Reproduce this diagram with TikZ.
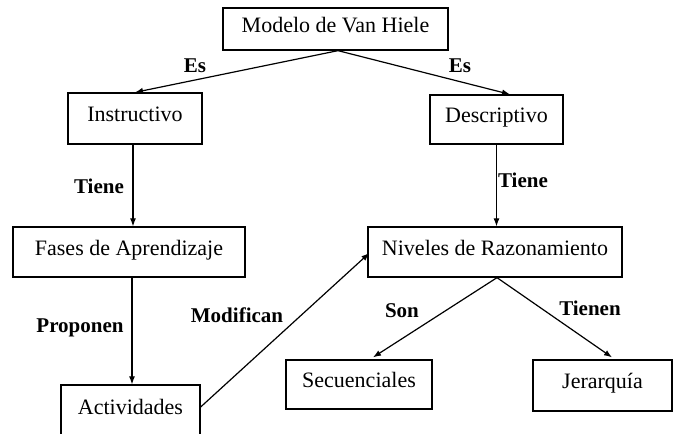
\documentclass[tikz,border=0pt]{standalone}
\usepackage{fontspec}
\setmainfont{Liberation Serif}
\usetikzlibrary{arrows.meta,calc}
\begin{document}
\begin{tikzpicture}[x=1pt,y=-1pt,
  box/.style={draw,line width=1.3pt,rectangle,inner sep=0pt,
    font=\fontsize{22}{26}\selectfont,text height=0.86em,text depth=0.2em},
  lab/.style={inner sep=0pt,font=\bfseries\fontsize{21}{25}\selectfont},
  conn/.style={line width=1.2pt,-{Latex[length=8pt,width=6pt]}}]
\useasboundingbox (0,0) rectangle (673,434);
\fill[white] (0,0) rectangle (673,434);
% boxes
\node[box,minimum width=225,minimum height=42] (modelo) at (335.5,29) {Modelo de Van Hiele};
\node[box,minimum width=134,minimum height=51] (instr) at (135,118.5) {Instructivo};
\node[box,minimum width=133,minimum height=49] (desc) at (496.5,119.5) {Descriptivo};
\node[box,minimum width=232,minimum height=50] (fases) at (129,252) {Fases de Aprendizaje};
\node[box,minimum width=254,minimum height=50] (niv) at (495,252) {Niveles de Razonamiento};
\node[box,minimum width=139,minimum height=52] (act) at (130.5,411) {Actividades};
\node[box,minimum width=146,minimum height=49] (sec) at (359,384.5) {Secuenciales};
\node[box,minimum width=139,minimum height=51] (jer) at (602.5,385.5) {Jerarqu\'ia};
% anchor points
\coordinate (mS) at ($(modelo.south)+(2.5,0)$);
\coordinate (dN) at ($(desc.north)+(13.5,0)$);
\coordinate (iS) at ($(instr.south)+(-2,0)$);
\coordinate (fS) at ($(fases.south)+(3,0)$);
\coordinate (nS) at ($(niv.south)+(2,0)$);
\coordinate (nW) at ($(niv.west)+(2,1)$);
\coordinate (aE) at ($(act.east)+(0,-4)$);
\coordinate (sN) at ($(sec.north)+(14,-2)$);
\coordinate (jN) at ($(jer.north)+(9.5,-2)$);
% connectors
\draw[conn] (mS) -- (instr.north);
\draw[conn] (mS) -- (dN);
\draw[conn] (iS) -- (iS |- fases.north);
\draw[conn] (desc.south) -- (desc.south |- niv.north);
\draw[conn] (fS) -- (fS |- act.north);
\draw[conn] (aE) -- (nW);
\draw[conn] (nS) -- (sN);
\draw[conn] (nS) -- (jN);
% labels
\node[lab] (l1) at (195,66) {Es};
\node[lab] (l2) at (460,66) {Es};
\node[lab] (l3) at (99,186) {Tiene};
\node[lab] (l4) at (523,180) {Tiene};
\node[lab] (l5) at (80,328) {Proponen};
\node[lab] (l6) at (237,315) {Modifican};
\node[lab] (l7) at (402,311) {Son};
\node[lab] (l8) at (590,308) {Tienen};
\end{tikzpicture}
\end{document}
